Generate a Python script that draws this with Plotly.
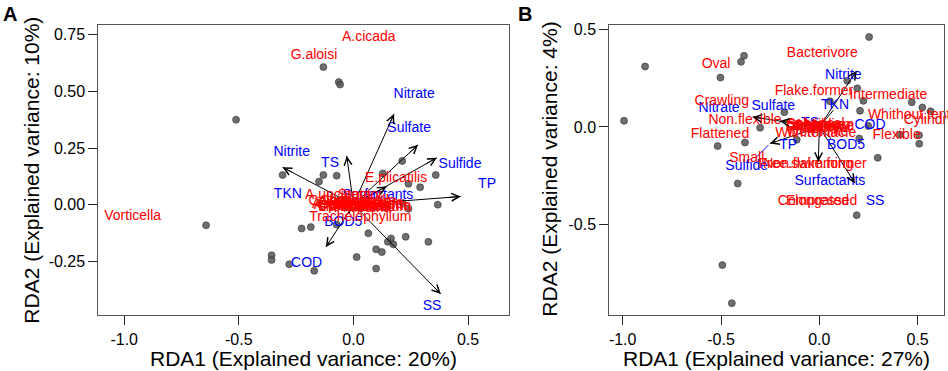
import plotly.graph_objects as go

W, H = 948, 371
FONT = "Liberation Sans, Arial, Helvetica, sans-serif"

# ---------------- Panel A data ----------------
a_site_x = [-0.131, -0.064, -0.058, -0.512, -0.309, -0.131, -0.073, -0.150, 0.213, 0.128,
            0.359, 0.240, 0.291, 0.215, 0.368, 0.240, -0.643, -0.226, -0.186, -0.073,
            0.065, 0.164, 0.228, 0.327, 0.150, 0.174, -0.357, -0.357, -0.280, -0.171,
            0.014, 0.099, 0.124, 0.099]
a_site_y = [0.607, 0.541, 0.530, 0.375, 0.131, 0.131, 0.128, 0.102, 0.193, 0.138,
            0.131, 0.092, 0.077, 0.007, 0.000, -0.018, -0.091, -0.105, -0.099, -0.088,
            -0.126, -0.149, -0.142, -0.164, -0.164, -0.175, -0.223, -0.244, -0.263, -0.292,
            -0.231, -0.197, -0.209, -0.282]

a_env_names = ["Nitrite", "TS", "Nitrate", "Sulfate", "Sulfide", "TP", "COD", "SS",
               "TKN", "Surfactants", "BOD5"]
a_env_tip_x = [-0.309, -0.029, 0.177, 0.282, 0.364, 0.468, -0.120, 0.381, -0.060, 0.145, -0.020]
a_env_tip_y = [0.165, 0.215, 0.400, 0.264, 0.207, 0.036, -0.187, -0.394, 0.012, 0.080, -0.040]
a_env_lab_x = [-0.269, -0.102, 0.265, 0.243, 0.465, 0.583, -0.204, 0.343, -0.286, 0.107, -0.044]
a_env_lab_y = [0.230, 0.182, 0.488, 0.334, 0.176, 0.089, -0.260, -0.450, 0.045, 0.041, -0.081]

a_spe_names = ["A.cicada", "G.aloisi", "Vorticella", "E.plicatilis", "A.uncinata", "Stentor",
               "Trachelophyllum", "Aspidisca", "Epistylis", "Opercularia", "Carchesium",
               "Zoothamnium", "Litonotus", "Euplotes", "Arcella", "Euglypha", "Rotaria",
               "Philodina", "Chilodonella", "Paramecium", "Colpidium", "Aeolosoma"]
a_spe_x = [0.067, -0.172, -0.963, 0.186, -0.067, 0.030,
           0.030, -0.050, 0.050, 0.000, 0.070,
           0.030, -0.030, 0.060, -0.080, 0.090, -0.020,
           0.040, 0.020, 0.080, -0.060, 0.100]
a_spe_y = [0.738, 0.657, -0.054, 0.116, 0.041, 0.041,
           -0.058, 0.000, 0.008, -0.008, -0.004,
           0.004, -0.014, -0.014, -0.004, 0.000, 0.008,
           -0.018, 0.012, -0.012, 0.012, -0.008]

# ---------------- Panel B data ----------------
b_site_x = [0.253, -0.886, -0.383, -0.398, -0.503, -0.993, 0.142, 0.193, 0.224, 0.470,
            0.524, 0.566, 0.207, -0.178, -0.301, 0.054, -0.517, -0.378, -0.115, 0.203,
            0.297, 0.410, 0.507, 0.508, -0.415, 0.190, 0.249, -0.493, -0.445]
b_site_y = [0.461, 0.310, 0.365, 0.334, 0.253, 0.032, 0.237, 0.198, 0.134, 0.127,
            0.100, 0.080, 0.083, 0.076, -0.004, 0.132, -0.098, -0.080, -0.065, -0.059,
            -0.158, -0.039, -0.042, -0.086, -0.290, -0.452, 0.005, -0.708, -0.903]

b_env_names = ["Nitrite", "Nitrate", "Sulfate", "TKN", "TS", "COD", "TP", "BOD5",
               "Surfactants", "SS"]
b_env_tip_x = [0.190, -0.339, -0.200, 0.071, -0.020, 0.100, -0.251, 0.060, -0.005, 0.181]
b_env_tip_y = [0.288, 0.051, 0.030, 0.085, 0.010, 0.000, -0.085, -0.060, -0.178, -0.288]
b_env_lab_x = [0.122, -0.510, -0.234, 0.080, -0.047, 0.258, -0.158, 0.136, 0.054, 0.283]
b_env_lab_y = [0.263, 0.097, 0.107, 0.110, 0.017, 0.009, -0.095, -0.097, -0.280, -0.381]
# Sulfide vector (drawn as a plain blue segment in the original)
b_sulfide_x = [-0.259, -0.318]
b_sulfide_y = [-0.093, -0.153]
b_sulfide_lab = (-0.369, -0.203)

b_spe_names = ["Bacterivore", "Oval", "Flake.former", "Intermediate", "Crawling",
               "Non.flexible", "Whithout.tentacle", "Cylindrical", "Flattened", "Flexible",
               "With.tentacle", "Worm.like", "Small", "Free.swimming", "Non.flake.former",
               "Elongated", "Compressed", "Sessile", "Algivore", "Predator", "Omnivore",
               "Large", "Medium", "Spherical", "Colonial"]
b_spe_x = [0.015, -0.525, -0.027, 0.351, -0.496,
           -0.378, 0.522, 0.593, -0.505, 0.393,
           -0.018, -0.010, -0.369, -0.068, -0.022,
           -0.009, -0.009, -0.050, 0.000, -0.030, 0.020,
           -0.080, 0.050, -0.020, 0.030]
b_spe_y = [0.378, 0.322, 0.181, 0.161, 0.131,
           0.034, 0.059, 0.034, -0.039, -0.042,
           -0.034, -0.030, -0.161, -0.194, -0.194,
           -0.381, -0.381, 0.010, 0.005, -0.005, 0.000,
           0.000, 0.005, 0.015, -0.010]

# ticks / titles
a_xticks = [-1.0, -0.5, 0.0, 0.5]
a_xticktext = ["-1.0", "-0.5", "0.0", "0.5"]
a_yticks = [0.75, 0.5, 0.25, 0.0, -0.25]
a_yticktext = ["0.75", "0.50", "0.25", "0.00", "-0.25"]
b_xticks = [-1.0, -0.5, 0.0, 0.5]
b_xticktext = ["-1.0", "-0.5", "0.0", "0.5"]
b_yticks = [0.5, 0.0, -0.5]
b_yticktext = ["0.5", "0.0", "-0.5"]
a_xtitle = "RDA1 (Explained variance: 20%)"
a_ytitle = "RDA2 (Explained variance: 10%)"
b_xtitle = "RDA1 (Explained variance: 27%)"
b_ytitle = "RDA2 (Explained variance: 4%)"

fig = go.Figure()
annotations = []


def add_panel(xa, ya, sx, sy, tipx, tipy, envn, envx, envy, spn, spx, spy):
    fig.add_trace(go.Scatter(x=sx, y=sy, mode="markers", xaxis=xa, yaxis=ya,
                             marker=dict(size=7, color="rgba(85,85,85,0.85)",
                                         line=dict(color="#333", width=0.6)),
                             hoverinfo="skip", showlegend=False))
    lx, ly = [], []
    for tx, ty in zip(tipx, tipy):
        lx += [0, tx, None]
        ly += [0, ty, None]
    fig.add_trace(go.Scatter(x=lx, y=ly, mode="lines", xaxis=xa, yaxis=ya,
                             line=dict(color="black", width=1),
                             hoverinfo="skip", showlegend=False))
    for tx, ty in zip(tipx, tipy):
        annotations.append(dict(x=tx, y=ty, ax=tx * 0.85, ay=ty * 0.85,
                                xref=xa, yref=ya, axref=xa, ayref=ya,
                                showarrow=True, arrowhead=5, arrowsize=1.5,
                                arrowwidth=1, arrowcolor="black", text=""))
    fig.add_trace(go.Scatter(x=envx, y=envy, text=envn, mode="text", xaxis=xa, yaxis=ya,
                             textfont=dict(color="#0000ff", size=14, family=FONT),
                             cliponaxis=False, hoverinfo="skip", showlegend=False))
    fig.add_trace(go.Scatter(x=spx, y=spy, text=spn, mode="text", xaxis=xa, yaxis=ya,
                             textfont=dict(color="#ff0000", size=14, family=FONT),
                             cliponaxis=False, hoverinfo="skip", showlegend=False))


add_panel("x", "y", a_site_x, a_site_y, a_env_tip_x, a_env_tip_y,
          a_env_names, a_env_lab_x, a_env_lab_y, a_spe_names, a_spe_x, a_spe_y)

# panel B: sulfide segment in blue
fig.add_trace(go.Scatter(x=b_sulfide_x, y=b_sulfide_y, mode="lines", xaxis="x2", yaxis="y2",
                         line=dict(color="#0000ff", width=1), hoverinfo="skip",
                         showlegend=False))
add_panel("x2", "y2", b_site_x, b_site_y, b_env_tip_x, b_env_tip_y,
          b_env_names + ["Sulfide"], b_env_lab_x + [b_sulfide_lab[0]],
          b_env_lab_y + [b_sulfide_lab[1]], b_spe_names, b_spe_x, b_spe_y)

axis_common = dict(showgrid=False, zeroline=False, showline=True, mirror=True,
                   linecolor="#555", linewidth=1, ticks="outside", ticklen=9,
                   tickcolor="#222", tickwidth=1,
                   tickfont=dict(size=16, color="black", family=FONT))

ybot, ytop = 1 - 315 / H, 1 - 21.7 / H
fig.update_layout(
    width=W, height=H, margin=dict(l=0, r=0, t=0, b=0),
    paper_bgcolor="white", plot_bgcolor="white", showlegend=False,
    xaxis=dict(domain=[98.3 / W, 509.3 / W], range=[-1.113, 0.680], anchor="y",
               tickvals=a_xticks, ticktext=a_xticktext, **axis_common),
    yaxis=dict(domain=[ybot, ytop], range=[-0.489, 0.795], anchor="x",
               tickvals=a_yticks, ticktext=a_yticktext, **axis_common),
    xaxis2=dict(domain=[609.3 / W, 944 / W], range=[-1.068, 0.634], anchor="y2",
                tickvals=b_xticks, ticktext=b_xticktext, **axis_common),
    yaxis2=dict(domain=[ybot, ytop], range=[-0.966, 0.525], anchor="x2",
                tickvals=b_yticks, ticktext=b_yticktext, **axis_common),
)

title_font = dict(size=21, color="black", family=FONT)
annotations += [
    dict(text=a_xtitle, x=303.7 / W, y=1 - 358 / H, xref="paper", yref="paper",
         showarrow=False, font=title_font, xanchor="center", yanchor="middle"),
    dict(text=b_xtitle, x=776.7 / W, y=1 - 358 / H, xref="paper", yref="paper",
         showarrow=False, font=title_font, xanchor="center", yanchor="middle"),
    dict(text=a_ytitle, x=32 / W, y=1 - 169 / H, xref="paper", yref="paper", textangle=-90,
         showarrow=False, font=title_font, xanchor="center", yanchor="middle"),
    dict(text=b_ytitle, x=550 / W, y=1 - 168 / H, xref="paper", yref="paper", textangle=-90,
         showarrow=False, font=title_font, xanchor="center", yanchor="middle"),
    dict(text="<b>A</b>", x=10 / W, y=1 - 11.5 / H, xref="paper", yref="paper",
         showarrow=False, font=dict(size=20, color="black", family=FONT),
         xanchor="center", yanchor="middle"),
    dict(text="<b>B</b>", x=524.5 / W, y=1 - 11 / H, xref="paper", yref="paper",
         showarrow=False, font=dict(size=20, color="black", family=FONT),
         xanchor="center", yanchor="middle"),
]
fig.update_layout(annotations=annotations)

fig.write_html("out.html",
               config={"displayModeBar": False},
               post_script="document.body.style.margin='0';"
                           "document.body.style.overflow='hidden';")
